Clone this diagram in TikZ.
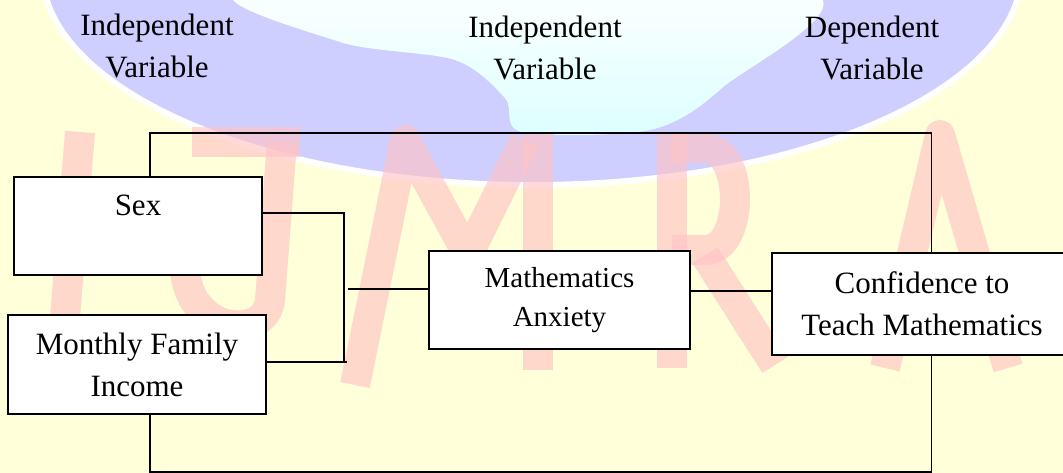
\documentclass[tikz,border=0pt]{standalone}
\usepackage{fontspec}
\setmainfont{Liberation Serif}
\definecolor{bgy}{RGB}{255,255,218}
\definecolor{wmblue}{RGB}{206,206,255}
\definecolor{wmpink}{RGB}{255,196,198}
\definecolor{wmcyan}{RGB}{220,255,255}
\begin{document}
\begin{tikzpicture}[x=1pt,y=-1pt,
  box/.style={draw=black, fill=white, line width=2pt, align=center, inner sep=0pt,
              font=\fontsize{31}{42}\selectfont},
  lab/.style={align=center, inner sep=0pt, font=\fontsize{31}{42}\selectfont},
  wire/.style={draw=black, line width=1.5pt},
  wm/.style={draw=wmpink, line width=30pt, draw opacity=0.65}]
\useasboundingbox (0,0) rectangle (1063,473);
% background and watermark
\fill[bgy] (0,0) rectangle (1063,473);
\filldraw[fill=wmblue, draw=white, line width=6pt] (532,-30) ellipse [x radius=490, y radius=215];
\shade[top color=white, bottom color=wmcyan]
  plot[smooth cycle] coordinates {(250,-10) (340,42) (455,60) (505,98) (522,132) (650,130) (722,88) (805,-10)};
\draw[wm] (80,132) -- (64,330);
\draw[wm] (192,142) -- (300,142);
\draw[wm] (282,142) -- (270,300) .. controls (266,340) and (190,335) .. (185,270);
\draw[wm, line join=round] (355,385) -- (405,140) -- (468,255) -- (525,140);
\draw[wm] (538,132) -- (538,370);
\draw[wm] (672,132) -- (672,368);
\draw[wm] (672,148) -- (705,148) .. controls (745,148) and (745,250) .. (705,250) -- (672,250);
\draw[wm] (705,255) -- (775,365);
\draw[wm, line join=round] (885,368) -- (940,135) -- (1008,368);
% text labels
\node[lab] (iv1) at (157,46) {Independent\\Variable};
\node[lab] (iv2) at (545,48) {Independent\\Variable};
\node[lab] (dv) at (872,48) {Dependent\\Variable};
% boxes
\node[box, minimum width=248pt, minimum height=98pt] (sex) at (138,226) {Sex\\\mbox{}};
\node[box, minimum width=258pt, minimum height=99pt] (mfi) at (137,364.5) {Monthly Family\\Income};
\node[box, minimum width=261pt, minimum height=98pt, font=\fontsize{29}{39}\selectfont] (ma) at (559.5,300) {Mathematics\\Anxiety};
\node[box, minimum width=300pt, minimum height=102pt] (conf) at (922,304) {Confidence to\\Teach Mathematics};
% junction coordinates
\coordinate (jt) at (344,213);
\coordinate (jb) at (344,362);
\coordinate (jbe) at (347,362);
\coordinate (jm) at (348,289);
\coordinate (mc) at (730,291);
\coordinate (tl) at (150,133);
\coordinate (tr) at (931.5,133);
\coordinate (bl) at (150,472);
\coordinate (br) at (931.5,472);
% connectors
\draw[wire] (jt -| sex.east) -- (jt) -- (jb);
\draw[wire] (jbe -| mfi.east) -- (jbe);
\draw[wire] (jm) -- (jm -| ma.west);
\draw[wire] (mc -| ma.east) -- (mc -| conf.west);
\draw[wire] (sex.north -| tl) -- (tl) -- (tr) -- (conf.north -| tr);
\draw[wire] (mfi.south -| bl) -- (bl) -- (br) -- (conf.south -| br);
\end{tikzpicture}
\end{document}
